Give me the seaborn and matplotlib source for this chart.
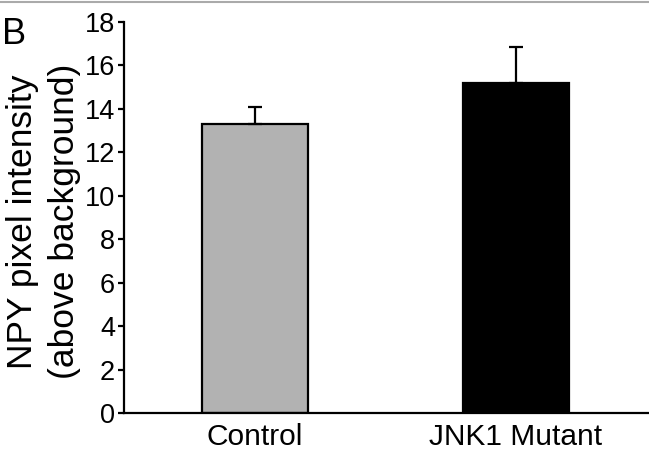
import matplotlib
matplotlib.use("Agg")
import matplotlib.pyplot as plt
from matplotlib.lines import Line2D
import seaborn as sns

# values
groups = ["Control", "JNK1 Mutant"]
means = [13.3, 15.2]
sem = [0.8, 1.65]
bar_colors = ["#b2b2b2", "#000000"]
yticks = [0, 2, 4, 6, 8, 10, 12, 14, 16, 18]

sns.set_theme(style="ticks")
plt.rcParams["font.family"] = ["Liberation Sans", "DejaVu Sans"]

fig = plt.figure(figsize=(6.49, 4.58), dpi=100)
ax = fig.add_axes([124 / 649, 45 / 458, 525 / 649, 391 / 458])

sns.barplot(x=groups, y=means, hue=groups, palette=bar_colors, legend=False,
            width=0.406, edgecolor="black", linewidth=1.6, errorbar=None, ax=ax)

# upward-only error bars
ax.errorbar(range(len(groups)), means, yerr=[[0] * len(sem), sem], fmt="none",
            ecolor="black", elinewidth=1.6, capsize=4.7, capthick=1.6, zorder=5)

ax.set_xlim(-0.502, 1.51)
ax.set_ylim(0, 18)
ax.set_yticks(yticks)
ax.set_xlabel("")
ax.set_ylabel("NPY pixel intensity\n(above background)", fontsize=25.5, color="black",
              linespacing=1.35)
ax.yaxis.set_label_coords(-0.082, 0.49)

sns.despine(ax=ax)
for side in ["left", "bottom"]:
    ax.spines[side].set_linewidth(1.6)
    ax.spines[side].set_color("black")
ax.tick_params(axis="y", length=4.5, width=1.6, color="black", labelsize=19.5,
               labelcolor="black", pad=2)
ax.tick_params(axis="x", length=0, labelsize=21.5, labelcolor="black", pad=7)

# panel letter and thin border line at the top
fig.text(2 / 649, 1 - 44 / 458, "B", fontsize=26, color="black", va="baseline")
fig.add_artist(Line2D([0, 1], [1 - 1.5 / 458, 1 - 1.5 / 458], color="#aaaaaa",
                      linewidth=1.5, transform=fig.transFigure))

fig.savefig("out.png", dpi=100)
